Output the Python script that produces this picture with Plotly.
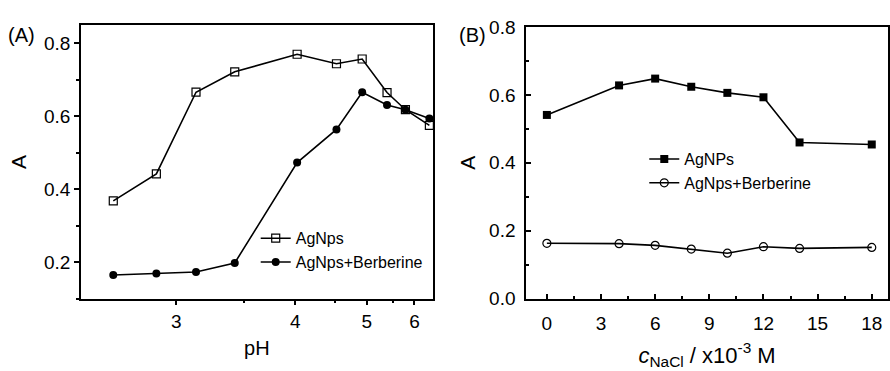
import plotly.graph_objects as go

# Panel A: absorbance vs pH
ph = [2.65, 2.88, 3.13, 3.42, 4.02, 4.52, 4.92, 5.38, 5.78, 6.40]
a_agnps = [0.368, 0.442, 0.666, 0.722, 0.770, 0.744, 0.757, 0.665, 0.618, 0.575]
a_agnps_berb = [0.165, 0.169, 0.173, 0.198, 0.473, 0.564, 0.666, 0.631, 0.618, 0.594]
ph_ticks = [3, 4, 5, 6]
ph_minor = [3.5, 4.5, 5.5]

# Panel B: absorbance vs NaCl concentration (x10^-3 M)
nacl = [0, 4, 6, 8, 10, 12, 14, 18]
b_agnps = [0.541, 0.628, 0.648, 0.624, 0.606, 0.593, 0.460, 0.454]
b_agnps_berb = [0.163, 0.162, 0.157, 0.146, 0.134, 0.153, 0.148, 0.151]

W, H = 890, 371
FONT = "Liberation Sans, Arial, sans-serif"

def recip(v):
    # reciprocal axis transform used by the original pH axis
    return [-1.0 / p for p in v]

fig = go.Figure()
line = dict(color="black", width=1.6)

fig.add_trace(go.Scatter(x=recip(ph), y=a_agnps, mode="lines+markers", name="AgNps",
                         line=line, marker=dict(symbol="square-open", size=8, color="black",
                                                line=dict(width=1.2)),
                         xaxis="x", yaxis="y", legend="legend", cliponaxis=False))
fig.add_trace(go.Scatter(x=recip(ph), y=a_agnps_berb, mode="lines+markers", name="AgNps+Berberine",
                         line=line, marker=dict(symbol="circle", size=8, color="black"),
                         xaxis="x", yaxis="y", legend="legend", cliponaxis=False))
fig.add_trace(go.Scatter(x=nacl, y=b_agnps, mode="lines+markers", name="AgNPs",
                         line=line, marker=dict(symbol="square", size=8, color="black"),
                         xaxis="x2", yaxis="y2", legend="legend2", cliponaxis=False))
fig.add_trace(go.Scatter(x=nacl, y=b_agnps_berb, mode="lines+markers", name="AgNps+Berberine",
                         line=line, marker=dict(symbol="circle-open", size=8, color="black",
                                                line=dict(width=1.2)),
                         xaxis="x2", yaxis="y2", legend="legend2", cliponaxis=False))

axcommon = dict(showline=True, linecolor="black", linewidth=1.6, mirror=True,
                showgrid=False, zeroline=False, tickcolor="black", tickwidth=1.5,
                tickfont=dict(family=FONT, size=19, color="black"))

fig.update_layout(
    width=W, height=H, margin=dict(l=0, r=0, t=0, b=0),
    paper_bgcolor="white", plot_bgcolor="white",
    font=dict(family=FONT, color="black"),
    xaxis=dict(domain=[81 / W, 433.3 / W], range=[-1 / 2.5, -1 / 6.5], anchor="y",
               tickmode="array", tickvals=recip(ph_ticks), ticktext=[str(t) for t in ph_ticks],
               ticks="outside", ticklen=5,
               minor=dict(tickmode="array", tickvals=recip(ph_minor), ticks="outside",
                          ticklen=3, tickcolor="black", tickwidth=1.5),
               title=dict(text="pH", font=dict(family=FONT, size=20), standoff=10),
               **axcommon),
    yaxis=dict(domain=[65 / H, 355 / H], range=[0.1, 0.85], anchor="x",
               tickvals=[0.2, 0.4, 0.6, 0.8], ticktext=["0.2", "0.4", "0.6", "0.8"],
               ticks="outside", ticklen=5,
               minor=dict(tickmode="array", tickvals=[0.1, 0.3, 0.5, 0.7], ticks="outside",
                          ticklen=3, tickcolor="black", tickwidth=1.5),
               title=dict(text="A", font=dict(family=FONT, size=21), standoff=12),
               **axcommon),
    xaxis2=dict(domain=[526.7 / W, 889 / W], range=[-1.15, 18.9], anchor="y2",
                tickvals=[0, 3, 6, 9, 12, 15, 18], ticks="inside", ticklen=5,
                ticklabelstandoff=7,
                minor=dict(tickmode="array", tickvals=[1.5, 4.5, 7.5, 10.5, 13.5, 16.5],
                           ticks="inside", ticklen=3, tickcolor="black", tickwidth=1.5),
                title=dict(text="<i>c</i><sub>NaCl</sub> / x10<sup>-3</sup> M",
                           font=dict(family=FONT, size=22), standoff=14),
                **axcommon),
    yaxis2=dict(domain=[65 / H, 353 / H], range=[0, 0.8], anchor="x2",
                tickvals=[0, 0.2, 0.4, 0.6, 0.8], ticktext=["0.0", "0.2", "0.4", "0.6", "0.8"],
                ticks="inside", ticklen=5, ticklabelstandoff=5,
                minor=dict(tickmode="array", tickvals=[0.1, 0.3, 0.5, 0.7], ticks="inside",
                           ticklen=3, tickcolor="black", tickwidth=1.5),
                title=dict(text="A", font=dict(family=FONT, size=21), standoff=8),
                **axcommon),
    legend=dict(x=256 / W, y=1 - 224 / H, xanchor="left", yanchor="top",
                bgcolor="rgba(0,0,0,0)", font=dict(family=FONT, size=16),
                tracegroupgap=0, itemwidth=30),
    legend2=dict(x=645 / W, y=1 - 140 / H, xanchor="left", yanchor="top",
                 bgcolor="rgba(0,0,0,0)", font=dict(family=FONT, size=16),
                 tracegroupgap=0, itemwidth=30),
    annotations=[
        dict(text="(A)", x=22 / W, y=1 - 26 / H, xref="paper", yref="paper",
             xanchor="center", yanchor="middle",
             showarrow=False, font=dict(family=FONT, size=20)),
        dict(text="(B)", x=473 / W, y=1 - 26 / H, xref="paper", yref="paper",
             xanchor="center", yanchor="middle",
             showarrow=False, font=dict(family=FONT, size=20)),
    ],
)

fig.write_html("out.html")
